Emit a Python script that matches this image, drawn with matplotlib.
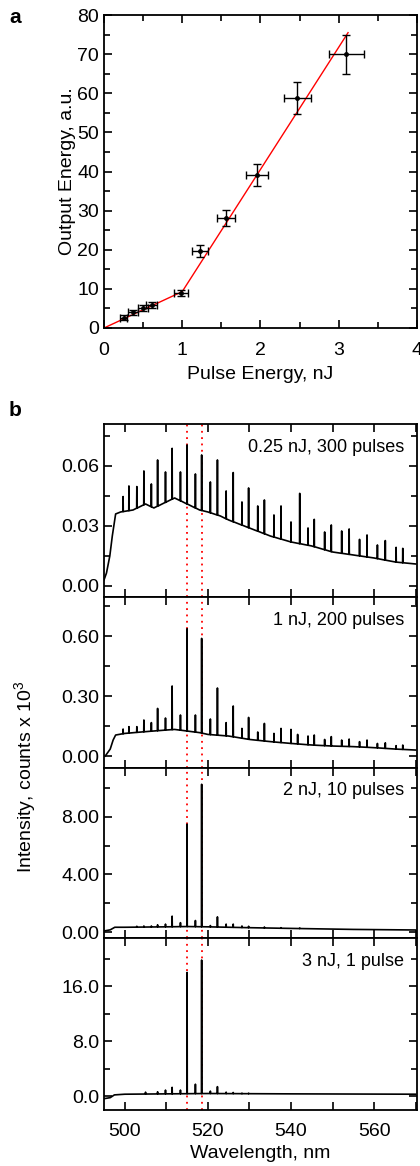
import numpy as np
import matplotlib
matplotlib.use("Agg")
import matplotlib.pyplot as plt
from matplotlib.ticker import MultipleLocator, FormatStrFormatter

plt.rcParams['font.family'] = ['Liberation Sans', 'DejaVu Sans']
plt.rcParams['mathtext.default'] = 'regular'

# ---- panel a: output vs pulse energy ----
pulse_e = [0.25, 0.37, 0.50, 0.61, 0.98, 1.23, 1.56, 1.96, 2.47, 3.10]
out_e = [2.6, 4.0, 5.2, 5.9, 9.0, 19.7, 28.2, 39.1, 58.8, 70.0]
pulse_err = [0.05, 0.06, 0.06, 0.07, 0.09, 0.10, 0.12, 0.14, 0.17, 0.22]
out_err = [0.6, 0.7, 0.8, 0.8, 0.8, 1.5, 2.0, 2.8, 4.2, 5.0]
fit_x = [0.0, 1.0, 3.12]
fit_y = [0.0, 9.3, 75.5]

# ---- panel b: spectra ----
labels = ["0.25 nJ, 300 pulses", "1 nJ, 200 pulses", "2 nJ, 10 pulses", "3 nJ, 1 pulse"]

bg1_wl = [495.0, 495.6, 496.4, 497.0, 497.8, 499, 502, 505, 507, 510, 512, 514, 516, 518,
          520, 523, 525, 530, 535, 540, 545, 550, 555, 560, 565, 570]
bg1 = [0.003, 0.0065, 0.015, 0.025, 0.036, 0.037, 0.038, 0.041, 0.039, 0.042, 0.044, 0.042,
       0.040, 0.038, 0.037, 0.035, 0.033, 0.029, 0.025, 0.022, 0.020, 0.017, 0.0155, 0.014,
       0.012, 0.011]
pk1_wl = [499.6, 501.0, 502.9, 504.6, 506.4, 507.9, 509.8, 511.4, 513.4, 515.0, 517.0, 518.5,
          520.6, 522.3, 524.4, 526.1, 528.2, 529.8, 532.0, 533.6, 535.9, 537.6, 540.0, 542.1,
          544.1, 545.6, 548.1, 549.7, 552.2, 554.0, 556.5, 558.3, 560.8, 562.7, 565.3, 566.9]
pk1 = [0.0447, 0.050, 0.0497, 0.0575, 0.051, 0.063, 0.057, 0.0688, 0.057, 0.0705, 0.056, 0.0655,
       0.052, 0.063, 0.0475, 0.0567, 0.042, 0.049, 0.040, 0.043, 0.0355, 0.040, 0.032, 0.0463,
       0.029, 0.0333, 0.027, 0.0305, 0.0275, 0.0285, 0.0233, 0.0255, 0.0205, 0.0227, 0.0193, 0.0188]

bg2_wl = [495.3, 496.5, 497.2, 497.8, 500, 505, 510, 512, 515, 518, 520, 525, 530, 535, 540,
          545, 550, 555, 560, 565, 570]
bg2 = [0.0, 0.035, 0.08, 0.105, 0.113, 0.122, 0.130, 0.133, 0.125, 0.117, 0.108, 0.100, 0.083,
       0.072, 0.063, 0.055, 0.050, 0.047, 0.042, 0.035, 0.030]
pk2_wl = [499.6, 501.0, 502.9, 504.6, 506.4, 507.9, 509.8, 511.4, 513.4, 515.0, 517.0, 518.5,
          520.6, 522.3, 524.4, 526.1, 528.2, 529.8, 532.0, 533.6, 535.9, 537.6, 540.0, 541.6,
          544.1, 545.6, 548.1, 549.7, 552.2, 554.0, 556.5, 558.3, 560.8, 562.7, 565.3, 566.9]
pk2 = [0.135, 0.147, 0.147, 0.18, 0.167, 0.238, 0.19, 0.35, 0.205, 0.636, 0.205, 0.588,
       0.185, 0.34, 0.167, 0.25, 0.138, 0.193, 0.12, 0.163, 0.113, 0.138, 0.133, 0.108,
       0.10, 0.105, 0.083, 0.097, 0.08, 0.085, 0.072, 0.08, 0.063, 0.066, 0.052, 0.055]

bg3_wl = [495.0, 496.5, 497.6, 500, 510, 515, 520, 530, 540, 555, 570]
bg3 = [0.07, 0.15, 0.33, 0.33, 0.36, 0.38, 0.36, 0.30, 0.25, 0.18, 0.14]
pk3_wl = [502.9, 504.6, 506.4, 507.9, 509.8, 511.4, 513.4, 515.0, 517.0, 518.5, 520.6, 522.3,
          524.4, 526.1, 528.2, 529.8, 533.6, 537.6, 542.1]
pk3 = [0.4, 0.42, 0.42, 0.5, 0.55, 1.1, 0.65, 7.5, 0.8, 10.27, 0.45, 1.05,
       0.55, 0.55, 0.42, 0.4, 0.35, 0.3, 0.28]

bg4_wl = [495.0, 496.5, 497.5, 500, 510, 520, 540, 570]
bg4 = [-0.35, -0.2, 0.2, 0.3, 0.35, 0.4, 0.35, 0.3]
pk4_wl = [505.0, 507.9, 509.8, 511.4, 513.4, 515.0, 517.0, 518.5, 520.6, 522.3, 524.4, 526.1,
          528.2, 529.8]
pk4 = [0.6, 0.65, 0.9, 1.3, 0.9, 18.0, 1.75, 19.8, 0.75, 1.4, 0.6, 0.55, 0.45, 0.45]

ylims = [(-0.0055, 0.081), (-0.06, 0.795), (-0.42, 11.4), (-2.0, 23.0)]
ymajor = [0.03, 0.30, 4.0, 8.0]
yfmt = ["%.2f", "%.2f", "%.2f", "%.1f"]
marker_lines = [515.0, 518.7]


def spectrum(bg_wl, bg_val, pk_wl, pk_val, w=0.04):
    base = np.interp(pk_wl, bg_wl, bg_val)
    xs = list(bg_wl)
    ys = list(bg_val)
    for p, h, b in zip(pk_wl, pk_val, base):
        xs += [p - w, p, p + w]
        ys += [b, h, b]
    order = np.argsort(xs, kind="stable")
    return np.array(xs)[order], np.array(ys)[order]


def style_axes(ax):
    for s in ax.spines.values():
        s.set_linewidth(1.3)
    ax.tick_params(which="both", direction="in", top=True, right=True,
                   width=1.2, labelsize=14)
    ax.tick_params(which="major", length=6)
    ax.tick_params(which="minor", length=4)


fig = plt.figure(figsize=(4.2, 11.66), dpi=100)

# panel a
ax_a = fig.add_axes([0.2476, 0.7187, 0.745, 0.2684])
ax_a.plot(fit_x, fit_y, color="red", lw=1.0, zorder=2)
ax_a.errorbar(pulse_e, out_e, xerr=pulse_err, yerr=out_err, fmt="o", color="black",
              ms=2.5, elinewidth=1.0, capsize=3, capthick=1.0, zorder=3)
ax_a.set_xlim(0, 4)
ax_a.set_ylim(0, 80)
ax_a.xaxis.set_major_locator(MultipleLocator(1))
ax_a.xaxis.set_minor_locator(MultipleLocator(0.5))
ax_a.yaxis.set_major_locator(MultipleLocator(10))
ax_a.yaxis.set_minor_locator(MultipleLocator(5))
style_axes(ax_a)
ax_a.tick_params(axis="x", pad=10)
ax_a.set_xlabel("Pulse Energy, nJ", fontsize=14, labelpad=5)
ax_a.set_ylabel("Output Energy, a.u.", fontsize=14, labelpad=1)
fig.text(0.036, 0.985, "a", fontsize=15, fontweight="bold", ha="center", va="center")

# panel b
bottoms = [0.4880, 0.3413, 0.1955, 0.0480]
heights = [0.1484, 0.1467, 0.1458, 0.1475]
series = [(bg1_wl, bg1, pk1_wl, pk1), (bg2_wl, bg2, pk2_wl, pk2),
          (bg3_wl, bg3, pk3_wl, pk3), (bg4_wl, bg4, pk4_wl, pk4)]

for i in range(4):
    ax = fig.add_axes([0.2476, bottoms[i], 0.745, heights[i]])
    x, y = spectrum(*series[i])
    ax.plot(x, y, color="black", lw=1.2)
    for m in marker_lines:
        ax.axvline(m, color="red", lw=1.3, linestyle=(0, (1, 2.5)), zorder=1)
    ax.set_xlim(495, 570.3)
    ax.set_ylim(*ylims[i])
    ax.xaxis.set_major_locator(MultipleLocator(20))
    ax.xaxis.set_minor_locator(MultipleLocator(10))
    ax.yaxis.set_major_locator(MultipleLocator(ymajor[i]))
    ax.yaxis.set_minor_locator(MultipleLocator(ymajor[i] / 2))
    ax.yaxis.set_major_formatter(FormatStrFormatter(yfmt[i]))
    style_axes(ax)
    ax.tick_params(axis="x", which="minor", length=6)
    ax.text(0.958, 0.865, labels[i], transform=ax.transAxes, ha="right", va="center",
            fontsize=13)
    if i < 3:
        ax.tick_params(labelbottom=False)
    else:
        ax.tick_params(axis="x", pad=9)
        ax.set_xlabel("Wavelength, nm", fontsize=14, labelpad=4)

fig.text(0.036, 0.648, "b", fontsize=15, fontweight="bold", ha="center", va="center")
fig.text(0.06, 0.334, "Intensity, counts x 10$^3$", fontsize=14, rotation=90,
         ha="center", va="center")

plt.savefig("out.png", dpi=100)
